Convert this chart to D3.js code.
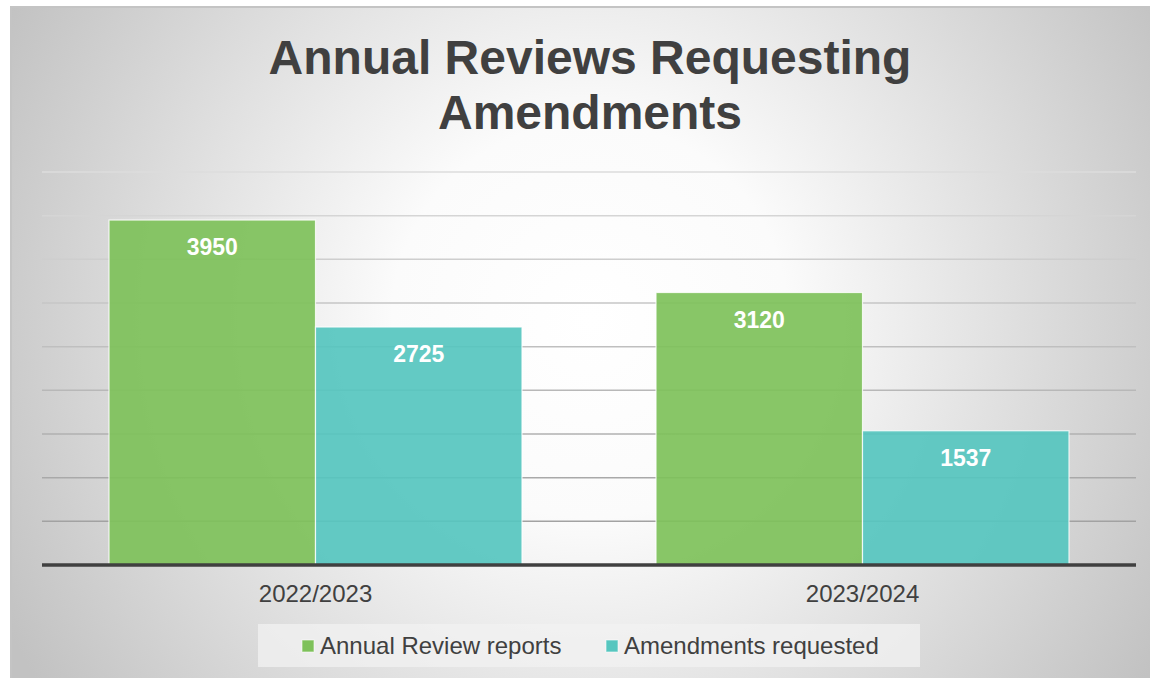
<!DOCTYPE html>
<html lang="en">
<head>
<meta charset="UTF-8">
<title>Annual Reviews Requesting Amendments</title>
<script src="https://cdn.jsdelivr.net/npm/d3@7/dist/d3.min.js"></script>
<style>
  body { margin: 0; background: #fff; }
  svg { display: block; font-family: "Liberation Sans", Arial, sans-serif; }
</style>
</head>
<body>
<script>
// data
var years = ["2022/2023", "2023/2024"];
var seriesNames = ["Annual Review reports", "Amendments requested"];
var annualReviews = [3950, 3120];
var amendments = [2725, 1537];
var yTicks = [500, 1000, 1500, 2000, 2500, 3000, 3500, 4000, 4500];
var titleLines = ["Annual Reviews Requesting", "Amendments"];

var colors = ["#7ec15a", "#56c6bf"];

var width = 1150, height = 678;
var plot = { left: 42, right: 1136, top: 172, bottom: 565 };

var svg = d3.select("body").append("svg")
  .attr("width", width)
  .attr("height", height);

var defs = svg.append("defs");
var bg = defs.append("radialGradient")
  .attr("id", "bg")
  .attr("gradientUnits", "userSpaceOnUse")
  .attr("cx", 590).attr("cy", 320).attr("r", 660);
bg.append("stop").attr("offset", "0%").attr("stop-color", "#ffffff");
bg.append("stop").attr("offset", "30%").attr("stop-color", "#fbfbfb");
bg.append("stop").attr("offset", "100%").attr("stop-color", "#c2c2c2");

// chart frame
svg.append("rect")
  .attr("x", 11).attr("y", 7)
  .attr("width", width).attr("height", height)
  .attr("fill", "url(#bg)")
  .attr("stroke", "#c4c4c4")
  .attr("stroke-width", 2);

var x0 = d3.scaleBand()
  .domain(years)
  .range([plot.left, plot.right])
  .paddingInner(0.245)
  .paddingOuter(0.1225);

var x1 = d3.scaleBand()
  .domain(seriesNames)
  .range([0, x0.bandwidth()]);

var y = d3.scaleLinear()
  .domain([0, 4500])
  .range([plot.bottom, plot.top]);

// gridlines get darker towards the bottom
var gridColor = d3.scaleLinear()
  .domain([4500, 500])
  .range(["#dcdcdc", "#a2a2a2"]);

svg.append("g")
  .selectAll("line")
  .data(yTicks)
  .enter()
  .append("line")
  .attr("x1", plot.left)
  .attr("x2", plot.right)
  .attr("y1", function(d) { return y(d); })
  .attr("y2", function(d) { return y(d); })
  .attr("stroke", function(d) { return gridColor(d); })
  .attr("stroke-width", 1.5);

// bars
var rows = years.map(function(yr, i) {
  return { year: yr, values: [annualReviews[i], amendments[i]] };
});

var groups = svg.append("g")
  .selectAll("g")
  .data(rows)
  .enter()
  .append("g")
  .attr("transform", function(d) { return "translate(" + x0(d.year) + ",0)"; });

var cells = groups.selectAll("g")
  .data(function(d) {
    return d.values.map(function(v, j) { return { name: seriesNames[j], value: v, j: j }; });
  })
  .enter()
  .append("g");

cells.append("rect")
  .attr("x", function(d) { return x1(d.name); })
  .attr("y", function(d) { return y(d.value); })
  .attr("width", x1.bandwidth())
  .attr("height", function(d) { return y(0) - y(d.value); })
  .attr("fill", function(d) { return colors[d.j]; })
  .attr("fill-opacity", 0.92)
  .attr("stroke", "#ffffff")
  .attr("stroke-opacity", 0.8)
  .attr("stroke-width", 1.2);

cells.append("text")
  .attr("x", function(d) { return x1(d.name) + x1.bandwidth() / 2; })
  .attr("y", function(d) { return y(d.value) + 35; })
  .attr("text-anchor", "middle")
  .attr("fill", "#ffffff")
  .attr("font-weight", "bold")
  .attr("font-size", "23px")
  .text(function(d) { return d.value; });

// baseline axis
var xAxis = svg.append("g")
  .attr("transform", "translate(0," + plot.bottom + ")")
  .call(d3.axisBottom(x0).tickSize(0).tickPadding(0));
xAxis.select(".domain")
  .attr("d", "M" + plot.left + ",0H" + plot.right)
  .attr("stroke", "#404040")
  .attr("stroke-width", 3.5);
xAxis.selectAll("text")
  .attr("y", 37)
  .attr("dy", 0)
  .attr("fill", "#404040")
  .attr("font-size", "24px")
  .attr("font-family", "Liberation Sans, Arial, sans-serif");

// title
svg.append("text")
  .attr("text-anchor", "middle")
  .attr("fill", "#404040")
  .attr("font-weight", "bold")
  .attr("font-size", "48px")
  .selectAll("tspan")
  .data(titleLines)
  .enter()
  .append("tspan")
  .attr("x", 590)
  .attr("y", function(d, i) { return 74 + i * 55; })
  .text(function(d) { return d; });

// legend
var legend = svg.append("g");
legend.append("rect")
  .attr("x", 258).attr("y", 624)
  .attr("width", 662).attr("height", 43)
  .attr("fill", "#f2f2f2")
  .attr("fill-opacity", 0.75);

var legendX = [302, 606];
var items = legend.selectAll("g")
  .data(seriesNames)
  .enter()
  .append("g")
  .attr("transform", function(d, i) { return "translate(" + legendX[i] + ",0)"; });

items.append("rect")
  .attr("x", 0).attr("y", 640)
  .attr("width", 12).attr("height", 12)
  .attr("fill", function(d, i) { return colors[i]; })
  .attr("stroke", "#ffffff")
  .attr("stroke-opacity", 0.6);

items.append("text")
  .attr("x", 18).attr("y", 654)
  .attr("fill", "#404040")
  .attr("font-size", "24px")
  .text(function(d) { return d; });
</script>
</body>
</html>
